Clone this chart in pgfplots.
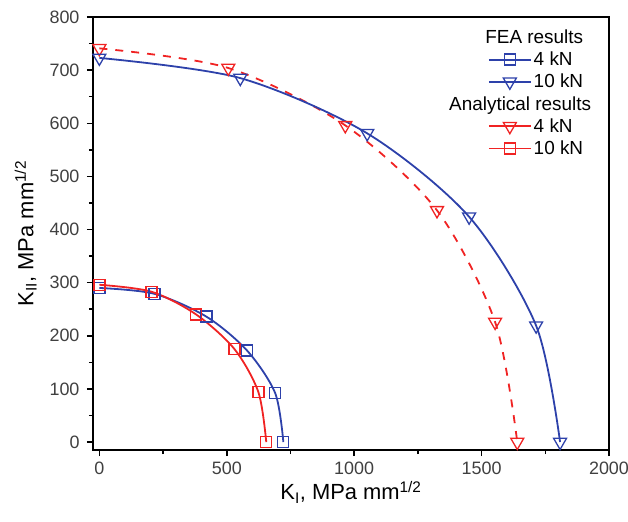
\documentclass[border=0pt]{standalone}
\usepackage{pgfplots}
\pgfplotsset{compat=1.18}
\usepackage{fontspec}
\setmainfont{Liberation Sans}
\definecolor{myblue}{RGB}{45,65,170}
\definecolor{myred}{RGB}{240,35,35}
\begin{document}
\begin{tikzpicture}
\begin{axis}[
  scale only axis, width=516bp, height=433bp,
  xmin=-25, xmax=2000, ymin=-15, ymax=800,
  xtick={0,500,...,2000}, ytick={0,100,...,800},
  minor x tick num=1, minor y tick num=1,
  tick pos=left, tick align=outside,
  major tick length=6bp, minor tick length=4bp,
  axis line style={line width=1.5bp},
  every tick/.style={line width=1.5bp, black},
  /pgf/number format/assume math mode=true,
  /pgf/number format/1000 sep={},
  ticklabel style={font=\fontsize{18}{20}\selectfont, color=black!75},
  xticklabel style={yshift=-2bp},
  yticklabel style={xshift=-4bp},
  xlabel={K\textsubscript{I}, MPa mm\textsuperscript{1/2}},
  ylabel={K\textsubscript{II}, MPa mm\textsuperscript{1/2}},
  label style={font=\fontsize{22}{24}\selectfont},
  ylabel style={yshift=6bp},
  legend style={draw=none, fill=none, at={(0.96,0.98)}, anchor=north east,
    font=\fontsize{19}{21}\selectfont, row sep=3bp},
  legend cell align=left,
  legend image code/.code={\draw[mark repeat=2,mark phase=2] plot coordinates {(0bp,0bp) (21bp,0bp) (42bp,0bp)};},
]
\addlegendimage{empty legend}
\addlegendentry{\phantom{10 kN}\llap{FEA results}}
\addlegendimage{solid, myblue, line width=1.8bp, mark=square, mark size=5.5bp, mark options={fill=white, line width=1.3bp}}
\addlegendentry{4 kN}
\addlegendimage{solid, myblue, line width=1.8bp, mark=triangle, mark size=7.5bp, mark options={rotate=180, fill=white, line width=1.3bp}}
\addlegendentry{10 kN}
\addlegendimage{empty legend}
\addlegendentry{\phantom{10 kN}\llap{Analytical results\kern-8bp}}
\addlegendimage{solid, myred, line width=1.8bp, mark=triangle, mark size=7.5bp, mark options={rotate=180, fill=white, line width=1.3bp}}
\addlegendentry{4 kN}
\addlegendimage{solid, myred, line width=1.8bp, mark=square, mark size=5.5bp, mark options={fill=white, line width=1.3bp}}
\addlegendentry{10 kN}

% Analytical 4 kN
\addplot[forget plot, myred, line width=1.8bp, dash pattern=on 8bp off 8bp, smooth, mark=triangle, mark size=7.5bp, mark options={rotate=180, fill=white, line width=1.3bp, solid}]
  coordinates {(0,741) (506,704) (965,596) (1325,436) (1553,226) (1640,0)};
% FEA 10 kN
\addplot[forget plot, myblue, line width=1.8bp, smooth, mark=triangle, mark size=7.5bp, mark options={rotate=180, fill=white, line width=1.3bp}]
  coordinates {(0,723) (553,685) (1051,581) (1451,424) (1714,219) (1808,0)};
% FEA 4 kN
\addplot[forget plot, myblue, line width=1.8bp, smooth, mark=square, mark size=5.5bp, mark options={fill=white, line width=1.3bp}]
  coordinates {(0,290) (216,279) (420,236) (580,172) (690,92) (722,0)};
% Analytical 10 kN
\addplot[forget plot, myred, line width=1.8bp, smooth, mark=square, mark size=5.5bp, mark options={fill=white, line width=1.3bp}]
  coordinates {(0,296) (204,283) (380,240) (530,175) (624,94) (655,0)};
\end{axis}
\pgfresetboundingbox
\path (current axis.south west) ++(-93bp,-72bp) coordinate (BL);
\path (current axis.north east) ++(19bp,17bp) coordinate (TR);
\path (BL) rectangle (TR);
\end{tikzpicture}
\end{document}
